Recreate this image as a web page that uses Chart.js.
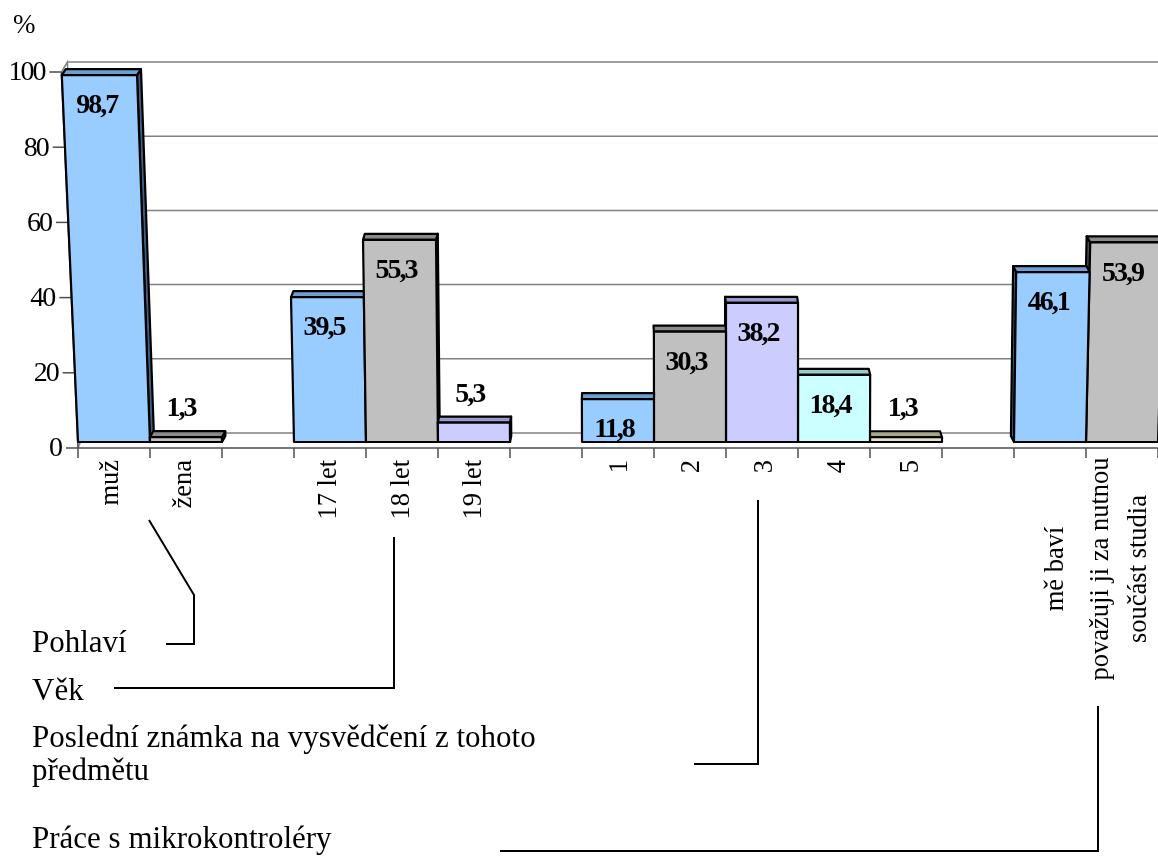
<!DOCTYPE html>
<html lang="cs">
<head>
<meta charset="utf-8">
<title>Dotazník – práce s mikrokontroléry</title>
<script src="https://cdn.jsdelivr.net/npm/chart.js@4.4.0/dist/chart.umd.min.js"></script>
<style>
  html, body { margin: 0; padding: 0; background: #fff; }
  canvas { display: block; }
</style>
</head>
<body>
<canvas id="chart" width="1158" height="862"></canvas>
<script>
// answers in % for each question
const pohlaviLabels = ["muž", "žena"];
const pohlaviValues = [98.7, 1.3];

const vekLabels = ["17 let", "18 let", "19 let"];
const vekValues = [39.5, 55.3, 5.3];

const znamkaLabels = ["1", "2", "3", "4", "5"];
const znamkaValues = [11.8, 30.3, 38.2, 18.4, 1.3];

const praceLabels = ["mě baví", ["považuji ji za nutnou", "součást studia"]];
const praceValues = [46.1, 53.9];

const yTicks = [0, 20, 40, 60, 80, 100];

// column colours by position inside a question
const palette = [
  { front: "#99ccff", top: "#6f9fd0", side: "#3f5f85" },
  { front: "#c0c0c0", top: "#8a8a8a", side: "#4f4f4f" },
  { front: "#ccccff", top: "#9999cc", side: "#62628f" },
  { front: "#ccffff", top: "#99cccc", side: "#628f8f" },
  { front: "#e4e4c6", top: "#a6a68c", side: "#6f6f60" }
];

const groups = [
  { labels: pohlaviLabels, values: pohlaviValues },
  { labels: vekLabels, values: vekValues },
  { labels: znamkaLabels, values: znamkaValues },
  { labels: praceLabels, values: praceValues, centered: true }
];

// one category axis, an empty slot between questions
const labels = [], values = [], colors = [], centered = [];
groups.forEach((g, gi) => {
  if (gi > 0) {
    labels.push("");
    values.push(null);
    colors.push(null);
    centered.push(false);
  }
  g.labels.forEach((l, i) => {
    labels.push(l);
    values.push(g.values[i]);
    colors.push(palette[i]);
    centered.push(!!g.centered);
  });
});

// question captions below the chart and their leader lines
const captions = [
  { text: "Pohlaví", x: 32, y: 652 },
  { text: "Věk", x: 32, y: 700 },
  { text: "Poslední známka na vysvědčení z tohoto", x: 32, y: 747 },
  { text: "předmětu", x: 32, y: 780 },
  { text: "Práce s mikrokontroléry", x: 32, y: 848 }
];
const leaders = [
  [[166, 644], [194, 644], [194, 595], [149, 520]],
  [[114, 688], [394, 688], [394, 537]],
  [[694, 764], [758, 764], [758, 500]],
  [[500, 851], [1098, 851], [1098, 706]]
];

const SERIF = '"Liberation Serif", "Times New Roman", serif';

// sideways drift per pixel of height, from the 3D view
function skew(x) {
  const d = x - 760;
  return d < 0 ? -0.95e-7 * d * d : 2e-7 * d * d;
}
// depth offset of the column tops (towards the back wall)
function depthDx(x) { return (640 - x) * 0.0075; }
const DEPTH_DY = -6;
function heightFactor(x) {
  const t = (640 - x) / 560;
  return 1 + 0.024 * t * t;
}

function poly(ctx, pts, fill) {
  ctx.beginPath();
  ctx.moveTo(pts[0][0], pts[0][1]);
  for (let i = 1; i < pts.length; i++) ctx.lineTo(pts[i][0], pts[i][1]);
  ctx.closePath();
  ctx.fillStyle = fill;
  ctx.fill();
  ctx.stroke();
}

function axisX(chart, v) {
  const ys = chart.scales.y, x0 = chart.chartArea.left;
  return x0 + skew(x0) * (ys.getPixelForValue(0) - ys.getPixelForValue(v));
}

function drawWalls(chart) {
  const ctx = chart.ctx, ys = chart.scales.y;
  const backY = v => ys.getPixelForValue(v) - (15 - 0.05 * v);
  ctx.save();
  ctx.strokeStyle = "#808080";
  ctx.lineWidth = 1.5;
  yTicks.forEach(v => {
    ctx.beginPath();
    ctx.moveTo(axisX(chart, v) + 6, backY(v));
    ctx.lineTo(chart.width, backY(v));
    ctx.stroke();
  });
  ctx.beginPath();
  ctx.moveTo(axisX(chart, 100), ys.getPixelForValue(100));
  ctx.lineTo(axisX(chart, 100) + 6, backY(100));
  ctx.lineTo(axisX(chart, 0) + 6, backY(0));
  ctx.lineTo(axisX(chart, 0), ys.getPixelForValue(0));
  ctx.stroke();
  ctx.restore();
}

function drawAxes(chart) {
  const ctx = chart.ctx, ys = chart.scales.y, xs = chart.scales.x;
  const base = ys.getPixelForValue(0);
  ctx.save();
  ctx.strokeStyle = "#4d4d4d";
  ctx.lineWidth = 1.5;

  // value axis
  ctx.beginPath();
  ctx.moveTo(axisX(chart, 0), base);
  ctx.lineTo(axisX(chart, 100), ys.getPixelForValue(100));
  ctx.stroke();
  ctx.font = "28px " + SERIF;
  ctx.letterSpacing = "-2px";
  ctx.fillStyle = "#000";
  ctx.textAlign = "right";
  ctx.textBaseline = "middle";
  yTicks.forEach(v => {
    const py = ys.getPixelForValue(v), ax = axisX(chart, v);
    ctx.beginPath();
    ctx.moveTo(ax - 12, py);
    ctx.lineTo(ax, py);
    ctx.stroke();
    ctx.fillText(String(v), ax - 17, py + 1);
  });
  ctx.letterSpacing = "0px";

  // category axis, ticks between categories
  const w = xs.getPixelForValue(1) - xs.getPixelForValue(0);
  ctx.beginPath();
  ctx.moveTo(axisX(chart, 0), base);
  ctx.lineTo(chart.width, base);
  ctx.stroke();
  for (let i = 0; i <= labels.length; i++) {
    const tx = xs.getPixelForValue(0) - w / 2 + i * w;
    ctx.beginPath();
    ctx.moveTo(tx, base);
    ctx.lineTo(tx, base + 10);
    ctx.stroke();
  }

  ctx.font = "27px " + SERIF;
  ctx.textAlign = "left";
  ctx.textBaseline = "alphabetic";
  ctx.fillText("%", 13, 33);
  ctx.restore();
}

function columnGeometry(chart, el) {
  const base = chart.scales.y.getPixelForValue(0) - 6;
  const h = (el.base - el.y) * 0.968 * heightFactor(el.x);
  return { base, top: base - h, h };
}

function drawColumns(chart) {
  const ctx = chart.ctx, meta = chart.getDatasetMeta(0);
  // columns far from the view centre first, nearer ones cover their sides
  const order = meta.data.map((el, i) => i)
    .filter(i => values[i] != null)
    .sort((a, b) => Math.abs(meta.data[b].x - 640) - Math.abs(meta.data[a].x - 640));
  ctx.save();
  ctx.strokeStyle = "#000";
  ctx.lineWidth = 2.2;
  ctx.lineJoin = "round";
  order.forEach(i => {
    const el = meta.data[i], c = colors[i];
    const { base, top, h } = columnGeometry(chart, el);
    const xl = el.x - el.width / 2, xr = el.x + el.width / 2;
    const bl = [xl, base], br = [xr, base];
    const tl = [xl + skew(xl) * h, top], tr = [xr + skew(xr) * h, top];
    const dx = depthDx(el.x);
    const back = p => [p[0] + dx, p[1] + DEPTH_DY];
    if (dx > 0.5) poly(ctx, [tr, back(tr), back(br), br], c.side);
    else if (dx < -0.5) poly(ctx, [tl, back(tl), back(bl), bl], c.side);
    poly(ctx, [tl, tr, back(tr), back(tl)], c.top);
    poly(ctx, [bl, br, tr, tl], c.front);
  });
  ctx.restore();
}

function drawValueLabels(chart) {
  const ctx = chart.ctx, meta = chart.getDatasetMeta(0);
  ctx.save();
  ctx.font = "bold 28px " + SERIF;
  ctx.letterSpacing = "-2px";
  ctx.fillStyle = "#000";
  ctx.textAlign = "center";
  ctx.textBaseline = "middle";
  meta.data.forEach((el, i) => {
    const v = values[i];
    if (v == null) return;
    const { base, top } = columnGeometry(chart, el);
    const ly = v >= 10 ? top + 31 : top - 28;
    const lx = el.x + skew(el.x) * (base - ly) - 4;
    ctx.fillText(v.toFixed(1).replace(".", ","), lx, ly);
  });
  ctx.restore();
}

function drawCategoryLabels(chart) {
  const ctx = chart.ctx, xs = chart.scales.x, area = chart.chartArea;
  ctx.save();
  ctx.font = "26.5px " + SERIF;
  ctx.fillStyle = "#000";
  ctx.textBaseline = "alphabetic";
  labels.forEach((lab, i) => {
    if (!lab) return;
    const cx = xs.getPixelForValue(i);
    const bx = cx + 4 + (cx - area.left - 36) * 0.0095;
    ctx.save();
    if (centered[i]) {
      ctx.translate(bx, 569);
      ctx.rotate(-Math.PI / 2);
      ctx.textAlign = "center";
      if (Array.isArray(lab)) {
        ctx.fillText(lab[0], 0, -28);
        ctx.fillText(lab[1], 0, 10);
      } else {
        ctx.fillText(lab, 0, 0);
      }
    } else {
      ctx.translate(bx, 460);
      ctx.rotate(-Math.PI / 2);
      ctx.textAlign = "right";
      ctx.fillText(lab, 0, 0);
    }
    ctx.restore();
  });
  ctx.restore();
}

function drawCaptions(chart) {
  const ctx = chart.ctx;
  ctx.save();
  ctx.font = "31px " + SERIF;
  ctx.fillStyle = "#000";
  ctx.textAlign = "left";
  ctx.textBaseline = "alphabetic";
  captions.forEach(c => ctx.fillText(c.text, c.x, c.y));
  ctx.strokeStyle = "#000";
  ctx.lineWidth = 2;
  leaders.forEach(pts => {
    ctx.beginPath();
    ctx.moveTo(pts[0][0], pts[0][1]);
    pts.slice(1).forEach(p => ctx.lineTo(p[0], p[1]));
    ctx.stroke();
  });
  ctx.restore();
}

const columns3d = {
  id: "columns3d",
  beforeDatasetsDraw(chart) {
    drawWalls(chart);
    drawAxes(chart);
  },
  // the flat bars are replaced by the 3D columns below
  beforeDatasetDraw() {
    return false;
  },
  afterDatasetsDraw(chart) {
    drawColumns(chart);
    drawValueLabels(chart);
    drawCategoryLabels(chart);
    drawCaptions(chart);
  }
};

new Chart(document.getElementById("chart").getContext("2d"), {
  type: "bar",
  data: {
    labels: labels,
    datasets: [{
      data: values,
      backgroundColor: colors.map(c => c ? c.front : "transparent"),
      barPercentage: 1,
      categoryPercentage: 1
    }]
  },
  options: {
    responsive: false,
    animation: false,
    devicePixelRatio: 1,
    layout: { padding: { left: 78, right: 0, top: 72, bottom: 414 } },
    plugins: {
      legend: { display: false },
      tooltip: { enabled: false }
    },
    scales: {
      x: { display: false },
      y: { display: false, min: 0, max: 100 }
    }
  },
  plugins: [columns3d]
});
</script>
</body>
</html>
